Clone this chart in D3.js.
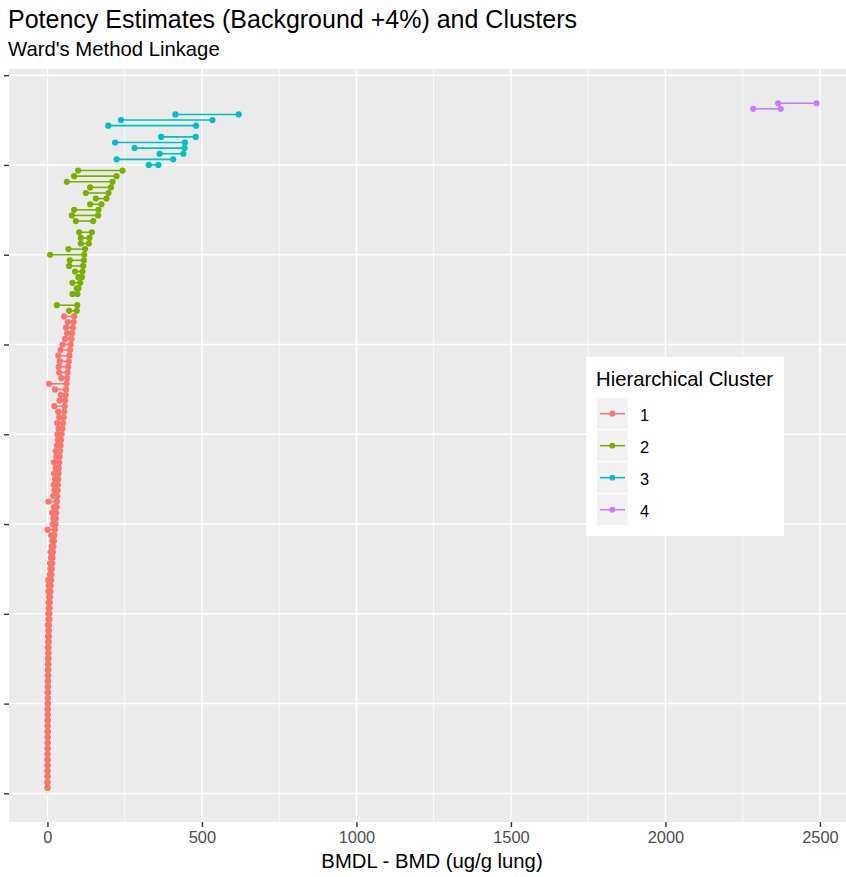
<!DOCTYPE html>
<html>
<head>
<meta charset="utf-8">
<script src="https://cdn.jsdelivr.net/npm/d3@7"></script>
<style>
  body { margin: 0; background: #fff; }
  text { font-family: "Liberation Sans", Arial, sans-serif; }
</style>
</head>
<body>
<script>
// rows ranked by BMD, one set of arrays per cluster
const rank1 = [1,2,3,4,5,6,7,8,9,10,11,12,13,14,15,16,17,18,19,20,21,22,23,24,25,26,27,28,29,30,
  31,32,33,34,35,36,37,38,39,40,41,42,43,44,45,46,47,48,49,50,51,52,53,54,55,56,57,58,59,60,
  61,62,63,64,65,66,67,68,69,70,71,72,73,74,75,76,77,78,79,80,81,82,83,84,85];
const bmdl1 = [0.1,0.1,0.2,0.2,0.3,0.3,0.4,0.4,0.5,0.5, 0.6,0.6,0.7,0.7,0.8,0.9,0.9,1.0,1.1,1.2,
  1.3,1.4,1.6,1.5,2.0,1.2,2.4,1.9,2.8,1.4, 3.3,2.7,4.2,3.5,5.3,3.1,4.0,2.5,7.6,9.4,
  8.7,11.2,10.1,13.6,15.8,12.5,0.6,17.1,19.7,15.4, 20.9,3.4,18.6,23.2,20.1,24.8,21.6,26.3,21.0,28.7,
  26.8,30.9,33.6,32.2,36.1,31.8,38.2,34.7,22.6,39.4, 42.8,24.1,5.5,44.9,38.0,36.4,40.3,35.2,42.5,49.0,
  57.0,64.0,60.2,66.1,54.0];
const bmd1 = [0.3,0.4,0.5,0.6,0.6,0.7,0.8,0.8,0.9,1.0, 1.1,1.2,1.3,1.4,1.5,1.6,1.7,1.9,2.0,2.2,
  2.4,2.6,3.0,3.3,3.6,3.9,4.3,4.7,5.1,5.5, 6.0,6.6,7.2,7.9,8.7,9.6,10.6,11.7,12.9,14.1,
  15.3,16.5,17.8,19.4,21.0,22.6,24.2,26.0,27.3,28.5, 29.7,30.8,31.9,32.9,33.9,34.9,35.9,37.0,38.1,39.5,
  41.0,42.5,44.0,46.0,48.6,50.7,52.6,54.4,56.0,57.5, 59.0,60.5,62.0,63.6,65.3,67.1,69.0,71.0,73.1,75.3,
  77.6,80.0,82.4,84.8,86.5];

const rank2 = [86,87,89,90,91,92,93,94,95,96,97,98,99,100,102,103,104,105,106,107,108,109,110,111];
const bmdl2 = [70.3,30.5,81,95.2,81,100.4,89.7,70.3,72.6,8.7,68,108.2,108.2,102.7,92,79,86.5,138.3,156.8,124.4,138.3,62.8,86.5,99.4];
const bmd2 = [95,96.5,97.2,100.4,106,111.4,113.4,115.6,118,119,122,134,136,143.8,148,164,165.2,174.9,191.1,197.6,205.4,210.6,223.5,243];

const rank3 = [112,113,114,115,116,117,119,120,121];
const bmdl3 = [328,224,363,282,219,368,197,238,414];
const bmd3 = [359,407,440,444,445,480,481,534,619];

const rank4 = [122,123];
const bmdl4 = [2284,2365];
const bmd4 = [2373,2489];

const clusterNames = ["1", "2", "3", "4"];
const clusterColors = ["#F8766D", "#7CAE00", "#00BFC4", "#C77CFF"];
const xMajor = [0, 500, 1000, 1500, 2000, 2500];
const xMinor = [250, 750, 1250, 1750, 2250];
const yBreaks = [0, 16, 32, 48, 64, 80, 96, 112, 128];

const groups = [
  [rank1, bmdl1, bmd1],
  [rank2, bmdl2, bmd2],
  [rank3, bmdl3, bmd3],
  [rank4, bmdl4, bmd4]
];
const rows = [];
groups.forEach((g, ci) => {
  g[0].forEach((r, i) => rows.push({ rank: r, lo: g[1][i], hi: g[2][i], cluster: clusterNames[ci] }));
});

const width = 846, height = 877;
const panel = { left: 9, right: 855, top: 69, bottom: 822 };
const dotR = 3.1;

const color = d3.scaleOrdinal().domain(clusterNames).range(clusterColors);

const xLo = d3.min(rows, d => d.lo), xHi = d3.max(rows, d => d.hi);
const xPad = (xHi - xLo) * 0.05;
const x = d3.scaleLinear().domain([xLo - xPad, xHi + xPad]).range([panel.left, panel.right]);

const yLo = d3.min(rows, d => d.rank), yHi = d3.max(rows, d => d.rank);
const yPad = (yHi - yLo) * 0.05;
const y = d3.scaleLinear().domain([yLo - yPad, yHi + yPad]).range([panel.bottom, panel.top]);

const svg = d3.select('body').append('svg')
  .attr('width', width)
  .attr('height', height);

svg.append('rect')
  .attr('x', panel.left).attr('y', panel.top)
  .attr('width', panel.right - panel.left).attr('height', panel.bottom - panel.top)
  .attr('fill', '#EBEBEB');

// grid
svg.append('g').selectAll('line').data(xMinor).enter().append('line')
  .attr('x1', d => x(d)).attr('x2', d => x(d))
  .attr('y1', panel.top).attr('y2', panel.bottom)
  .attr('stroke', '#fff').attr('stroke-width', 0.8);
svg.append('g').selectAll('line').data(xMajor).enter().append('line')
  .attr('x1', d => x(d)).attr('x2', d => x(d))
  .attr('y1', panel.top).attr('y2', panel.bottom)
  .attr('stroke', '#fff').attr('stroke-width', 1.5);
svg.append('g').selectAll('line').data(yBreaks).enter().append('line')
  .attr('x1', panel.left).attr('x2', panel.right)
  .attr('y1', d => y(d)).attr('y2', d => y(d))
  .attr('stroke', '#fff').attr('stroke-width', 1.5);

// axes
const xAxis = svg.append('g')
  .attr('transform', `translate(0, ${panel.bottom})`)
  .call(d3.axisBottom(x).tickValues(xMajor).tickSize(5).tickPadding(4).tickFormat(d3.format('d')));
xAxis.select('.domain').remove();
xAxis.selectAll('line').attr('stroke', '#333').attr('stroke-width', 1.4);
xAxis.selectAll('text').attr('fill', '#4D4D4D').attr('font-size', '16.4px')
  .style('font-family', '"Liberation Sans", Arial, sans-serif');

const yAxis = svg.append('g')
  .attr('transform', `translate(${panel.left}, 0)`)
  .call(d3.axisLeft(y).tickValues(yBreaks).tickSize(5).tickFormat(''));
yAxis.select('.domain').remove();
yAxis.selectAll('line').attr('stroke', '#333').attr('stroke-width', 1.4);

// dumbbells
svg.append('g').selectAll('line').data(rows).enter().append('line')
  .attr('x1', d => x(d.lo)).attr('x2', d => x(d.hi))
  .attr('y1', d => y(d.rank)).attr('y2', d => y(d.rank))
  .attr('stroke', d => color(d.cluster)).attr('stroke-width', 1.6);
svg.append('g').selectAll('circle').data(rows).enter().append('circle')
  .attr('cx', d => x(d.lo)).attr('cy', d => y(d.rank)).attr('r', dotR)
  .attr('fill', d => color(d.cluster));
svg.append('g').selectAll('circle').data(rows).enter().append('circle')
  .attr('cx', d => x(d.hi)).attr('cy', d => y(d.rank)).attr('r', dotR)
  .attr('fill', d => color(d.cluster));

// titles
svg.append('text').attr('x', 8).attr('y', 28)
  .attr('font-size', '25px').attr('fill', '#000')
  .text('Potency Estimates (Background +4%) and Clusters');
svg.append('text').attr('x', 8).attr('y', 56)
  .attr('font-size', '20.3px').attr('fill', '#000')
  .text("Ward's Method Linkage");
svg.append('text').attr('x', (panel.left + panel.right) / 2).attr('y', 868)
  .attr('text-anchor', 'middle')
  .attr('font-size', '20.3px').attr('fill', '#000')
  .text('BMDL - BMD (ug/g lung)');

// legend
const legend = svg.append('g').attr('transform', 'translate(586, 357)');
legend.append('rect').attr('width', 198).attr('height', 179).attr('fill', '#fff');
legend.append('text').attr('x', 10).attr('y', 29)
  .attr('font-size', '20.3px').attr('fill', '#000')
  .text('Hierarchical Cluster');
const keys = legend.selectAll('g.key').data(clusterNames).enter().append('g')
  .attr('class', 'key')
  .attr('transform', (d, i) => `translate(11, ${41.3 + i * 32})`);
keys.append('rect').attr('width', 30.7).attr('height', 30.7).attr('fill', '#F2F2F2');
keys.append('line').attr('x1', 3).attr('x2', 28).attr('y1', 15.35).attr('y2', 15.35)
  .attr('stroke', d => color(d)).attr('stroke-width', 1.6);
keys.append('circle').attr('cx', 15.35).attr('cy', 15.35).attr('r', 2.9).attr('fill', d => color(d));
keys.append('text').attr('x', 43).attr('y', 16.5).attr('dy', '0.35em')
  .attr('font-size', '16.4px').attr('fill', '#000')
  .text(d => d);
</script>
</body>
</html>
